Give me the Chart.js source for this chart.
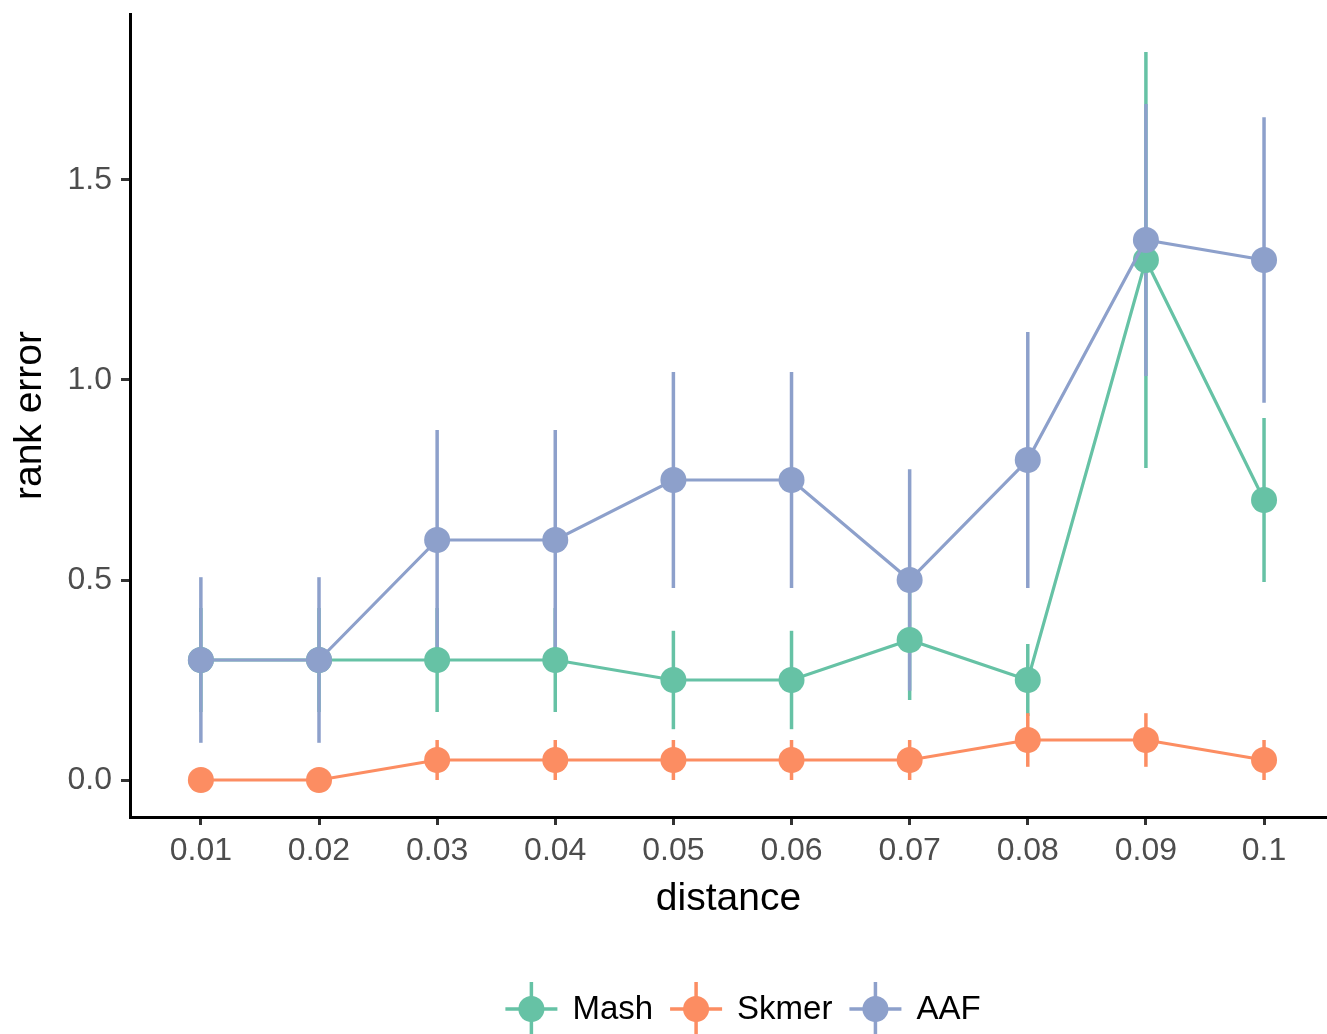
<!DOCTYPE html>
<html>
<head>
<meta charset="utf-8">
<script src="https://cdn.jsdelivr.net/npm/chart.js@4.4.1/dist/chart.umd.min.js"></script>
<style>
  html, body { margin: 0; padding: 0; background: #fff; }
  #wrap { width: 1327px; height: 1034px; }
</style>
</head>
<body>
<div id="wrap"><canvas id="canvas" width="1327" height="1034"></canvas></div>
<script>
'use strict';

const distances = ['0.01','0.02','0.03','0.04','0.05','0.06','0.07','0.08','0.09','0.1'];

const mash     = [0.3, 0.3, 0.3, 0.3, 0.25, 0.25, 0.35, 0.25, 1.3, 0.7];
const mashErr  = [0.13, 0.13, 0.13, 0.13, 0.123, 0.123, 0.15, 0.09, 0.52, 0.205];
const skmer    = [0, 0, 0.05, 0.05, 0.05, 0.05, 0.05, 0.1, 0.1, 0.05];
const skmerErr = [0, 0, 0.05, 0.05, 0.05, 0.05, 0.05, 0.067, 0.067, 0.05];
const aaf      = [0.3, 0.3, 0.6, 0.6, 0.75, 0.75, 0.5, 0.8, 1.35, 1.3];
const aafErr   = [0.207, 0.207, 0.275, 0.275, 0.27, 0.27, 0.277, 0.32, 0.34, 0.357];

const yTicks = [0, 0.5, 1.0, 1.5];

const fontFamily = '"Liberation Sans", Arial, Helvetica, sans-serif';

const series = [
  { name: 'Mash',  values: mash,  err: mashErr,  color: '#66C2A5' },
  { name: 'Skmer', values: skmer, err: skmerErr, color: '#FC8D62' },
  { name: 'AAF',   values: aaf,   err: aafErr,   color: '#8DA0CB' },
];

// vertical error bars, no caps, under the lines and points
const errorBars = {
  id: 'errorBars',
  beforeDatasetsDraw(chart) {
    const ctx = chart.ctx;
    const xs = chart.scales.x, ys = chart.scales.y;
    ctx.save();
    ctx.lineWidth = 3.5;
    series.forEach(s => {
      ctx.strokeStyle = s.color;
      s.values.forEach((v, i) => {
        const e = s.err[i];
        if (!e) return;
        const px = xs.getPixelForValue(i);
        ctx.beginPath();
        ctx.moveTo(px, ys.getPixelForValue(v - e));
        ctx.lineTo(px, ys.getPixelForValue(v + e));
        ctx.stroke();
      });
    });
    ctx.restore();
  }
};

// ggplot style legend at the bottom
const bottomLegend = {
  id: 'bottomLegend',
  afterDraw(chart) {
    const ctx = chart.ctx;
    const keyW = 52, gap = 15, itemGap = 17, cy = 1009, center = 743;
    ctx.save();
    ctx.font = '33px ' + fontFamily;
    const widths = series.map(s => ctx.measureText(s.name).width);
    let total = 0;
    widths.forEach((w, i) => { total += keyW + gap + w + (i ? itemGap : 0); });
    let x = center - total / 2;
    series.forEach((s, i) => {
      const kx = x + keyW / 2;
      ctx.strokeStyle = s.color;
      ctx.fillStyle = s.color;
      ctx.lineWidth = 3.5;
      ctx.beginPath();
      ctx.moveTo(x, cy); ctx.lineTo(x + keyW, cy);
      ctx.moveTo(kx, cy - 27); ctx.lineTo(kx, cy + 27);
      ctx.stroke();
      ctx.beginPath();
      ctx.arc(kx, cy, 13, 0, Math.PI * 2);
      ctx.fill();
      ctx.fillStyle = '#000';
      ctx.textBaseline = 'middle';
      ctx.textAlign = 'left';
      ctx.fillText(s.name, x + keyW + gap, cy + 1);
      x += keyW + gap + widths[i] + itemGap;
    });
    ctx.restore();
  }
};

const ctx = document.getElementById('canvas').getContext('2d');
const chart = new Chart(ctx, {
  type: 'line',
  data: {
    datasets: series.map((s, k) => ({
      label: s.name,
      data: s.values.map((v, i) => ({ x: i, y: v })),
      borderColor: s.color,
      backgroundColor: s.color,
      pointBackgroundColor: s.color,
      pointBorderWidth: 0,
      pointRadius: 13,
      borderWidth: 3.2,
      tension: 0,
      order: series.length - k,
      clip: false
    }))
  },
  options: {
    responsive: false,
    animation: false,
    devicePixelRatio: 1,
    layout: { autoPadding: false, padding: { top: 14, right: 0, bottom: 108, left: 0 } },
    plugins: { legend: { display: false }, tooltip: { enabled: false } },
    scales: {
      x: {
        type: 'linear',
        min: -0.6,
        max: 9.533,
        afterBuildTicks: s => { s.ticks = distances.map((d, i) => ({ value: i })); },
        afterFit: s => { s.height = 109; s.paddingLeft = 0; s.paddingRight = 0; },
        ticks: {
          callback: v => distances[v],
          color: '#4D4D4D',
          font: { family: fontFamily, size: 32 },
          padding: 7,
          autoSkip: false,
          maxRotation: 0
        },
        grid: { display: true, drawOnChartArea: false, drawTicks: true, tickLength: 8, color: '#333333', lineWidth: 3 },
        border: { display: true, color: '#000000', width: 3 },
        title: { display: true, text: 'distance', color: '#000000', font: { family: fontFamily, size: 39 }, padding: { top: 0, bottom: 3 } }
      },
      y: {
        min: -0.0925,
        max: 1.915,
        afterBuildTicks: s => { s.ticks = yTicks.map(v => ({ value: v })); },
        afterFit: s => { s.width = 130; s.paddingTop = 0; s.paddingBottom = 0; },
        ticks: {
          callback: v => v.toFixed(1),
          color: '#4D4D4D',
          font: { family: fontFamily, size: 32 },
          padding: 9
        },
        grid: { display: true, drawOnChartArea: false, drawTicks: true, tickLength: 9, color: '#333333', lineWidth: 3 },
        border: { display: true, color: '#000000', width: 3 },
        title: { display: true, text: 'rank error', color: '#000000', font: { family: fontFamily, size: 39 }, padding: { top: 7, bottom: 0 } }
      }
    }
  },
  plugins: [errorBars, bottomLegend]
});
</script>
</body>
</html>
